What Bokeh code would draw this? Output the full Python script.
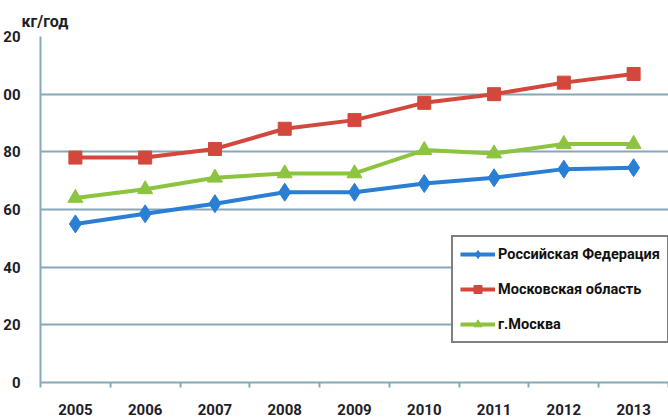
from bokeh.plotting import figure
from bokeh.models import FixedTicker, Range1d, Legend, LegendItem
from bokeh.embed import file_html
from bokeh.resources import INLINE

years = ["2005", "2006", "2007", "2008", "2009", "2010", "2011", "2012", "2013"]
russia = [55, 58.5, 62, 66, 66, 69, 71, 74, 74.5]
moscow_region = [78, 78, 81, 88, 91, 97, 100, 104, 107]
moscow_city = [64, 67, 71, 72.5, 72.5, 80.6, 79.4, 82.7, 82.7]
series_names = ["Российская Федерация", "Московская область", "г.Москва"]
y_ticks = [0, 20, 40, 60, 80, 100, 120]
y_tick_labels = ["0", "20", "40", "60", "80", "00", "20"]
unit_label = "кг/год"

FONT = "Roboto"
GRID = "#86a8ba"
TEXT = "#1e1e28"

xs = [i + 0.5 for i in range(len(years))]

p = figure(width=668, height=419, output_backend="svg", toolbar_location=None,
           x_range=Range1d(0, len(years)), y_range=Range1d(0, 120))
p.min_border_left = 39
p.min_border_right = 0
p.min_border_top = 36
p.min_border_bottom = 37
p.outline_line_color = None
p.background_fill_color = "white"
p.border_fill_color = "white"

# unit caption above the value axis
p.title.text = unit_label
p.title.align = "left"
p.title.offset = -19
p.title.text_font = FONT
p.title.text_font_style = "bold"
p.title.text_font_size = "16px"
p.title.text_color = TEXT
p.title.standoff = 11

# x axis: year labels at category centres, short ticks at category boundaries
p.xaxis.ticker = FixedTicker(ticks=xs, minor_ticks=list(range(len(years) + 1)))
p.xaxis.major_label_overrides = {x: y for x, y in zip(xs, years)}
p.xaxis.major_tick_line_color = None
p.xaxis.minor_tick_line_color = GRID
p.xaxis.minor_tick_line_width = 2
p.xaxis.minor_tick_out = 5
p.xaxis.minor_tick_in = 0
p.xaxis.axis_line_color = GRID
p.xaxis.axis_line_width = 2
p.xaxis.major_label_standoff = 15
p.xaxis.major_label_text_font = FONT
p.xaxis.major_label_text_font_style = "bold"
p.xaxis.major_label_text_font_size = "15px"
p.xaxis.major_label_text_color = TEXT
p.xgrid.grid_line_color = None

p.yaxis.ticker = FixedTicker(ticks=y_ticks)
p.yaxis.major_label_overrides = {t: s for t, s in zip(y_ticks, y_tick_labels)}
p.yaxis.major_tick_line_color = None
p.yaxis.minor_tick_line_color = None
p.yaxis.axis_line_color = GRID
p.yaxis.axis_line_width = 2
p.yaxis.major_label_standoff = 14
p.yaxis.major_label_text_font = FONT
p.yaxis.major_label_text_font_style = "bold"
p.yaxis.major_label_text_font_size = "15px"
p.yaxis.major_label_text_color = TEXT
p.ygrid.grid_line_color = GRID
p.ygrid.grid_line_width = 2

colors = ["#2a7fd4", "#d2483c", "#8cc440"]
data = [russia, moscow_region, moscow_city]
items = []
for name, vals, col, mk in zip(series_names, data, colors, ["diamond", "square", "triangle"]):
    ln = p.line(xs, vals, line_color=col, line_width=4)
    size = {"diamond": 18, "square": 13, "triangle": 15}[mk]
    sc = p.scatter(xs, vals, marker=mk, size=size, fill_color=col, line_color=col)
    items.append(LegendItem(label=name, renderers=[ln, sc]))

legend = Legend(items=items, location=(411, 39))
legend.margin = 0
legend.padding = 7
legend.spacing = 15
legend.label_height = 20
legend.glyph_height = 20
legend.glyph_width = 35
legend.label_standoff = 3
legend.border_line_color = "black"
legend.border_line_width = 2
legend.background_fill_color = "white"
legend.background_fill_alpha = 1
legend.label_text_font = FONT
legend.label_text_font_style = "bold"
legend.label_text_font_size = "14.5px"
legend.label_text_color = "#111111"
p.add_layout(legend)

open("out.html", "w").write(file_html(p, INLINE))
